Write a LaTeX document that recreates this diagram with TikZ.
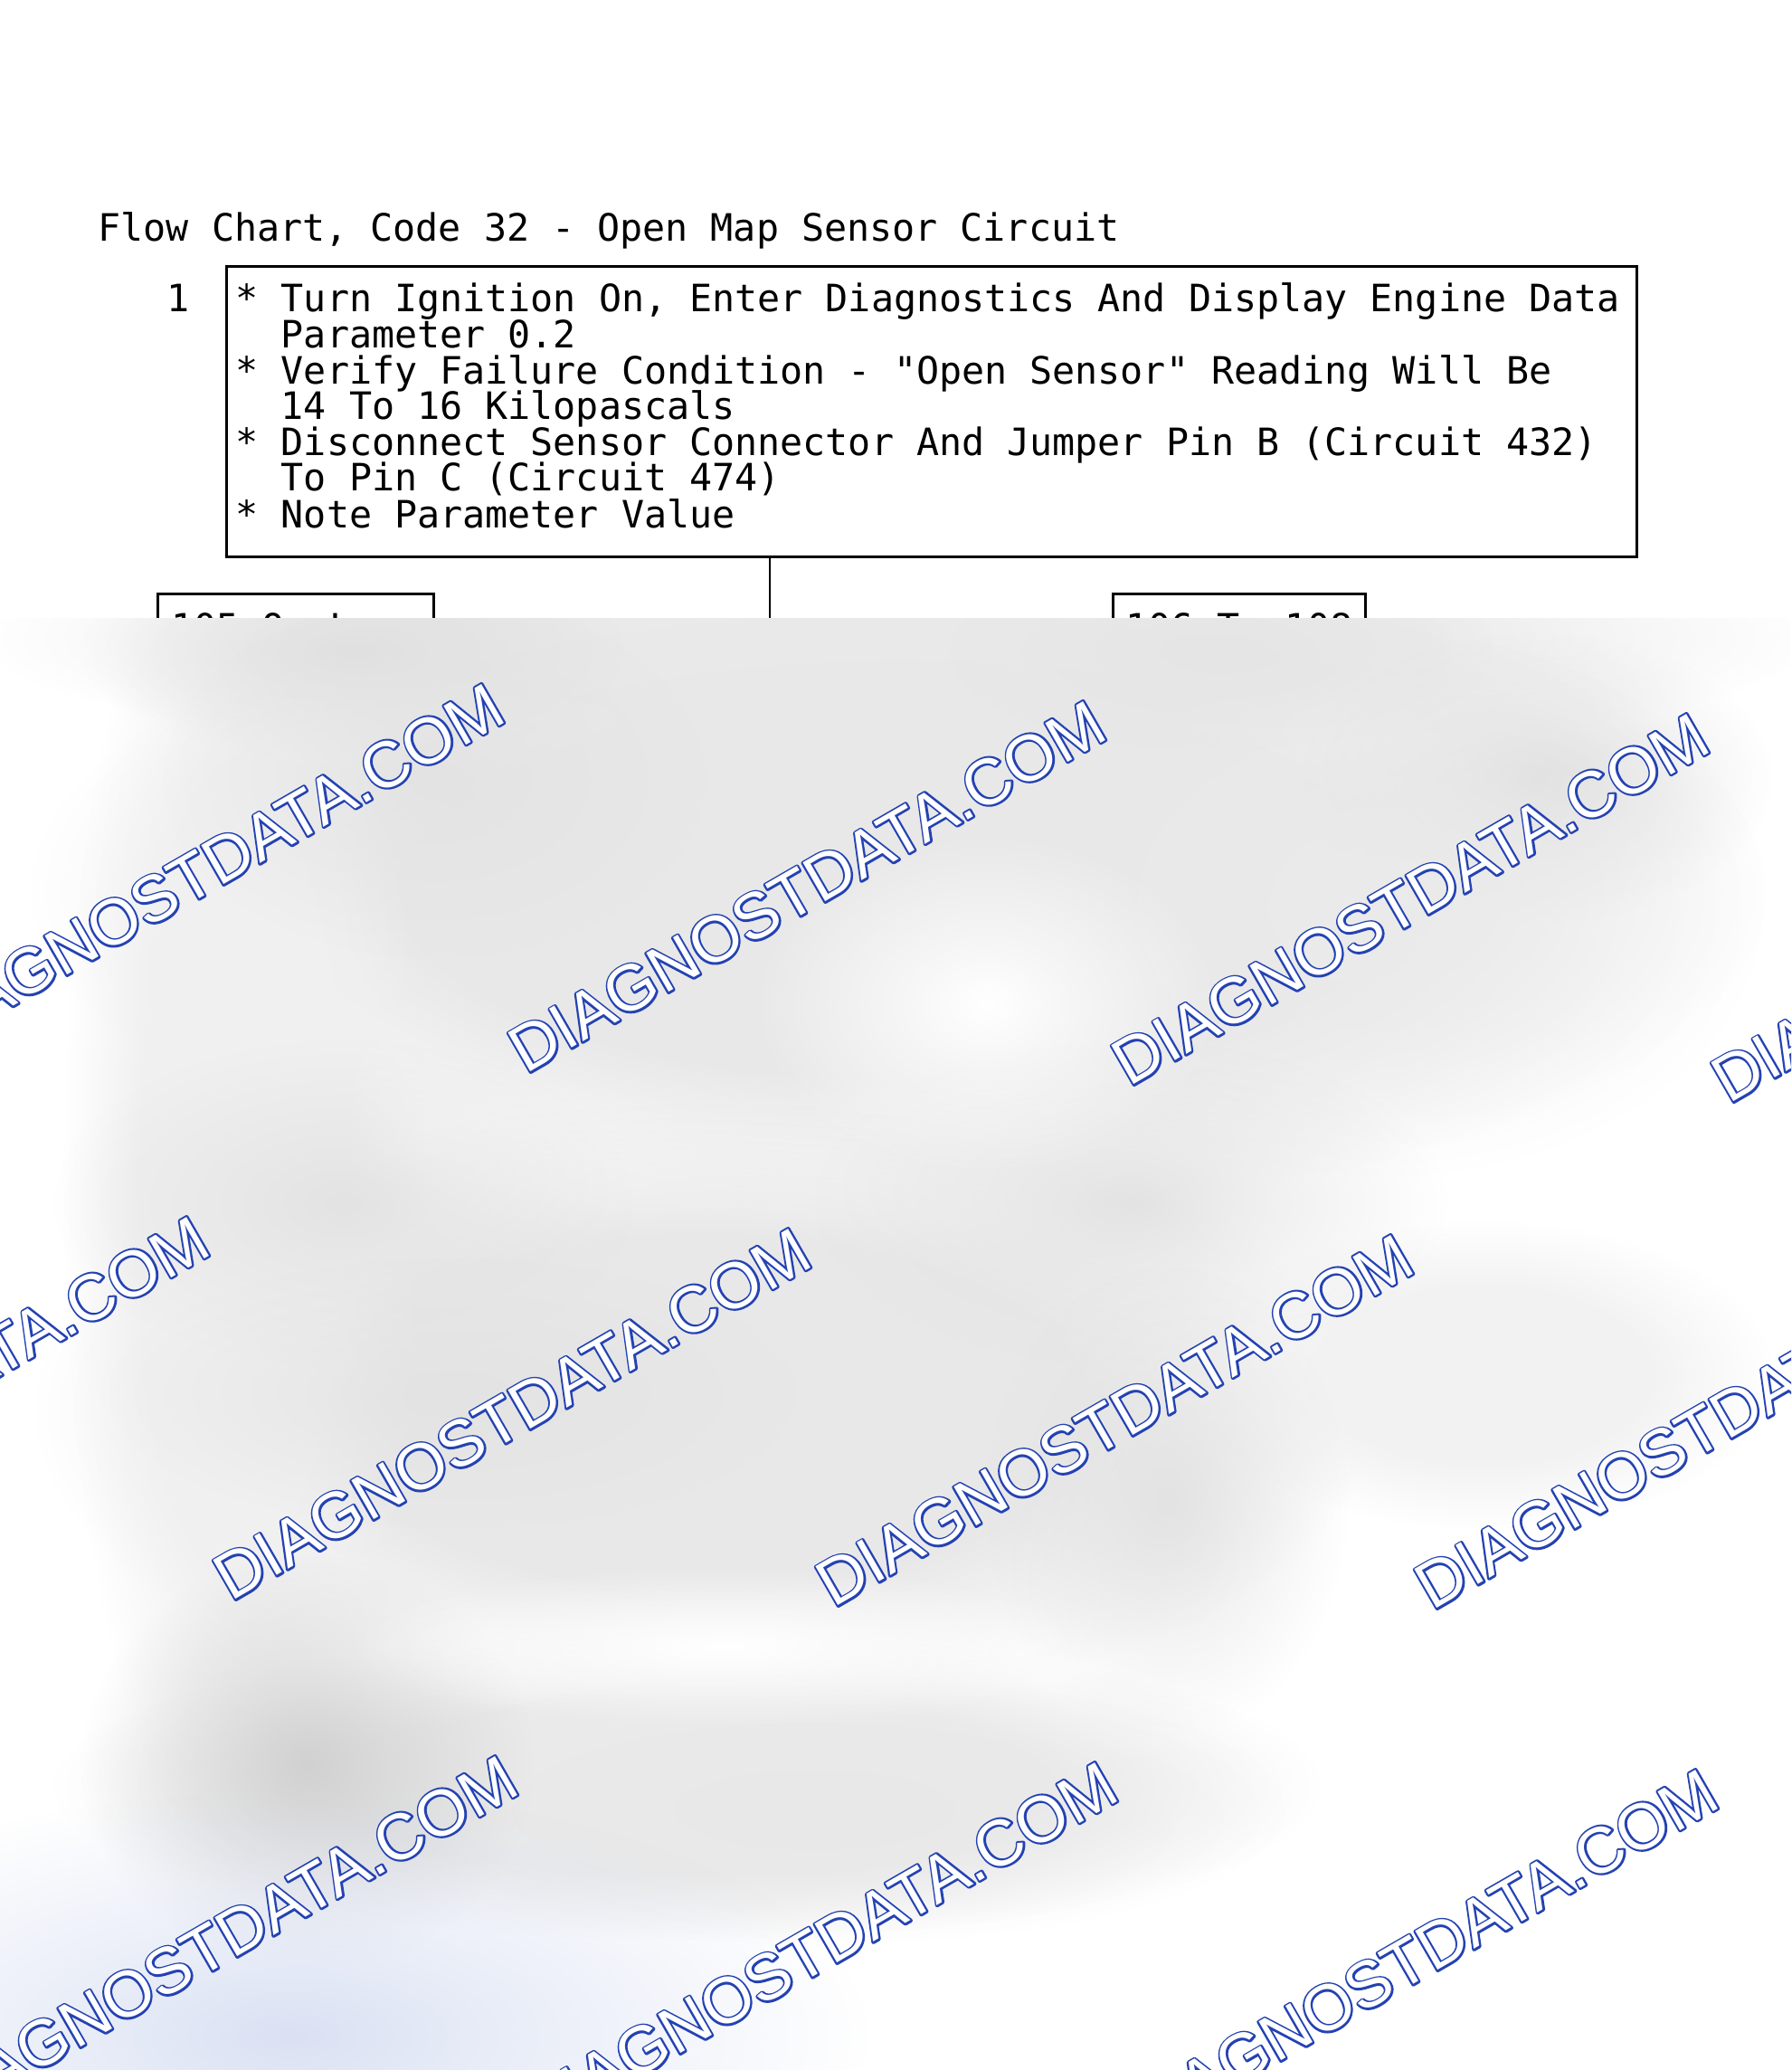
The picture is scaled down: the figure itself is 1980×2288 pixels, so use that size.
\documentclass[tikz,border=0pt]{standalone}
\usepackage{fontspec}
\setmonofont{DejaVu Sans Mono}
\newfontfamily\wmfont{Liberation Sans}
\newfontfamily\wmbold{Liberation Sans}[FakeBold=6]
\usetikzlibrary{fadings,calc}
\pgfdeclareradialshading{blobsh}{\pgfpointorigin}{color(0bp)=(white); color(9bp)=(white!60!black); color(25bp)=(black); color(50bp)=(black)}
\pgfdeclarefading{blobfade}{\pgfuseshading{blobsh}}
\pgfdeclareradialshading{flatsh}{\pgfpointorigin}{color(0bp)=(white); color(14bp)=(white); color(25bp)=(black); color(50bp)=(black)}
\pgfdeclarefading{flatfade}{\pgfuseshading{flatsh}}
\definecolor{wmblue}{RGB}{36,66,178}
\definecolor{bluish}{RGB}{218,225,243}
\newcommand\blob[5]{\fill[#1, path fading=blobfade] (#2,#3) ellipse (#4 and #5);}
\newcommand\flatblob[5]{\fill[#1, path fading=flatfade] (#2,#3) ellipse (#4 and #5);}
\newcommand\wmark[3]{%
  \node[wmo] at (#2,#3) {DIAGNOSTDATA.COM};
  \node[wmi] (#1) at (#2,#3) {DIAGNOSTDATA.COM};}
\begin{document}
\begin{tikzpicture}[x=0.3pt,y=-0.3pt,
  txt/.style={font=\ttfamily\fontsize{12.5pt}{12pt}\selectfont\frenchspacing, inner sep=0pt},
  box/.style={draw=black, line width=1pt},
  smallbox/.style={box, txt, text height=9pt, text depth=0pt, inner xsep=0pt, inner ysep=6.6pt, anchor=north west},
  conn/.style={draw=black, line width=0.65pt},
  wmo/.style={font=\wmbold\fontsize{21.6pt}{22pt}\selectfont, text=wmblue, rotate=30, inner sep=0pt, line join=round},
  wmi/.style={wmo, font=\wmfont\fontsize{21.6pt}{22pt}\selectfont, text=white}]
\useasboundingbox (0,0) rectangle (1980,2288);
\fill[white] (0,0) rectangle (1980,2288);

% title
\node[txt, anchor=base west] (title) at (108,267) {Flow Chart, Code 32 - Open Map Sensor Circuit};

% step 1
\node[txt, anchor=base] (n1) at (197,345) {1};
\node[box, anchor=north west, minimum width=467.7pt, minimum height=96.3pt, inner sep=0pt] (b1) at (249,293) {};
\node[txt, anchor=base west] (l1) at (260,345) {* Turn Ignition On, Enter Diagnostics And Display Engine Data};
\node[txt, anchor=base west] (l2) at (260,385) {\hphantom{**}Parameter 0.2};
\node[txt, anchor=base west] (l3) at (260,425) {* Verify Failure Condition - "Open Sensor" Reading Will Be};
\node[txt, anchor=base west] (l4) at (260,464) {\hphantom{**}14 To 16 Kilopascals};
\node[txt, anchor=base west] (l5) at (260,504) {* Disconnect Sensor Connector And Jumper Pin B (Circuit 432)};
\node[txt, anchor=base west] (l6) at (260,543) {\hphantom{**}To Pin C (Circuit 474)};
\node[txt, anchor=base west] (l7) at (260,583) {* Note Parameter Value};

% branches
\node[smallbox, minimum width=91.5pt] (b2) at (173,655) {105 Or Less};
\node[smallbox, minimum width=83.7pt] (b3) at (1229,655) {106 To 108};
\coordinate (j) at (851,780);
\draw[conn] (b1.south -| j) -- (j);

% blurred overlay
\begin{scope}
\clip (0,683) rectangle (1980,2288);
\fill[white] (0,683) rectangle (1980,2288);
% broad light-grey areas
\flatblob{black!8}{995}{705}{1010}{150}
\flatblob{black!9}{995}{985}{960}{360}
\flatblob{black!9}{780}{1560}{740}{340}
\flatblob{black!5}{1640}{1520}{320}{170}
\flatblob{black!8}{760}{1975}{700}{170}
\flatblob{black!6}{270}{1300}{200}{760}
% darker patches
\blob{black!12}{390}{720}{300}{120}
\blob{black!10}{1350}{720}{300}{110}
\blob{black!13}{1700}{860}{260}{160}
\blob{black!11}{480}{860}{300}{200}
\blob{black!8}{1530}{1000}{420}{300}
\blob{black!11}{380}{1330}{320}{180}
\blob{black!11}{1250}{1330}{350}{180}
\blob{black!11}{500}{1540}{380}{150}
\blob{black!11}{1290}{1660}{200}{260}
\blob{black!9}{900}{2000}{520}{150}
\blob{black!18}{340}{1950}{250}{230}
% lighter patches
\blob{white}{1090}{1110}{260}{190}
\blob{white}{800}{1820}{420}{90}
\blob{bluish}{320}{2250}{640}{270}

\wmark{w1}{227}{961}
\wmark{w2}{892}{980}
\wmark{w3}{1559}{994}
\wmark{w4}{2222}{1013}
\wmark{w5}{-99}{1550}
\wmark{w6}{566}{1563}
\wmark{w7}{1232}{1570}
\wmark{w8}{1894}{1573}
\wmark{w9}{242}{2146}
\wmark{w10}{905}{2153}
\wmark{w11}{1569}{2161}
\end{scope}
\end{tikzpicture}
\end{document}
